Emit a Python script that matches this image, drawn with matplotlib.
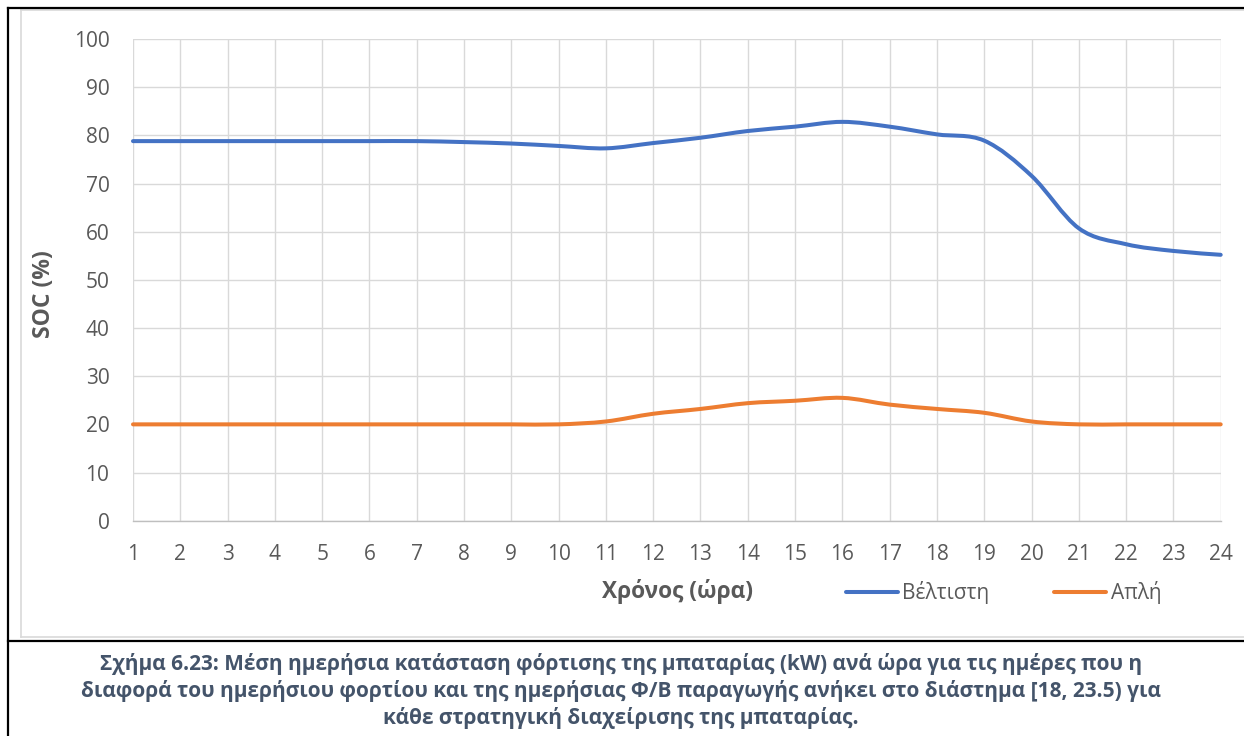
import numpy as np
import matplotlib
matplotlib.use("Agg")
import matplotlib.pyplot as plt
from matplotlib.path import Path
from matplotlib.patches import PathPatch
from matplotlib.lines import Line2D

plt.rcParams['font.family'] = ['Open Sans', 'DejaVu Sans']

hours = list(range(1, 25))
best = [78.8, 78.8, 78.8, 78.8, 78.8, 78.8, 78.8, 78.6, 78.3, 77.8, 77.3, 78.4,
        79.5, 80.9, 81.8, 82.8, 81.8, 80.2, 78.9, 71.6, 60.7, 57.4, 56.0, 55.2]
simple = [20.0, 20.0, 20.0, 20.0, 20.0, 20.0, 20.0, 20.0, 20.0, 20.0, 20.6, 22.2,
          23.2, 24.4, 24.9, 25.5, 24.1, 23.2, 22.4, 20.6, 20.0, 20.0, 20.0, 20.0]
series_names = ["Βέλτιστη", "Απλή"]
series_colors = ["#4472C4", "#ED7D31"]
x_ticks = hours
y_ticks = list(range(0, 101, 10))
x_title = "Χρόνος (ώρα)"
y_title = "SOC (%)"
caption = ("Σχήμα 6.23: Μέση ημερήσια κατάσταση φόρτισης της μπαταρίας (kW) ανά ώρα για τις ημέρες που η\n"
           "διαφορά του ημερήσιου φορτίου και της ημερήσιας Φ/Β παραγωγής ανήκει στο διάστημα [18, 23.5) για\n"
           "κάθε στρατηγική διαχείρισης της μπαταρίας.")

W, H = 1244, 736
fig = plt.figure(figsize=(W / 100, H / 100), dpi=100)


def fx(px):
    return px / W


def fy(py):
    return 1 - py / H


def smooth_path(x, y):
    """Excel-like smoothed line: cubic Bezier through the data points."""
    x = np.asarray(x, float)
    y = np.asarray(y, float)
    n = len(x)
    verts = [(x[0], y[0])]
    codes = [Path.MOVETO]
    for i in range(n - 1):
        p0 = np.array([x[max(i - 1, 0)], y[max(i - 1, 0)]])
        p1 = np.array([x[i], y[i]])
        p2 = np.array([x[i + 1], y[i + 1]])
        p3 = np.array([x[min(i + 2, n - 1)], y[min(i + 2, n - 1)]])
        c1 = p1 + (p2 - p0) / 6.0
        c2 = p2 - (p3 - p1) / 6.0
        verts += [tuple(c1), tuple(c2), tuple(p2)]
        codes += [Path.CURVE4] * 3
    return Path(verts, codes)


# axes
ax_left, ax_right, ax_top, ax_bottom = 133, 1220.7, 39, 520.7
ax = fig.add_axes([fx(ax_left), fy(ax_bottom), fx(ax_right - ax_left), (ax_bottom - ax_top) / H])
ax.set_xlim(1, 24)
ax.set_ylim(0, 100)
ax.set_xticks(x_ticks)
ax.set_yticks(y_ticks)
ax.grid(True, color="#D9D9D9", linewidth=1.0)
ax.set_axisbelow(True)
for s in ax.spines.values():
    s.set_visible(False)
ax.spines['bottom'].set_visible(True)
ax.spines['bottom'].set_color("#BFBFBF")
ax.spines['bottom'].set_linewidth(1.0)
ax.tick_params(length=0, labelsize=15, labelcolor="#595959")
ax.tick_params(axis='y', pad=17)
ax.tick_params(axis='x', pad=17)

for vals, col in zip([best, simple], series_colors):
    patch = PathPatch(smooth_path(hours, vals), facecolor='none', edgecolor=col,
                      linewidth=2.9, capstyle='round', joinstyle='round', zorder=3)
    patch.set_clip_on(False)
    ax.add_patch(patch)

# axis titles
fig.text(fx(44), fy(294), y_title, rotation=90, ha='center', va='center',
         fontsize=16.5, fontweight='bold', color="#595959")
fig.text(fx(678), fy(591), x_title, ha='center', va='center',
         fontsize=16.3, fontweight='bold', color="#595959")

# legend (manual placement)
leg_items = [(846, 898, 902), (1054, 1106, 1111)]
for (x0, x1, xt), name, col in zip(leg_items, series_names, series_colors):
    fig.add_artist(Line2D([fx(x0), fx(x1)], [fy(592), fy(592)], color=col,
                          linewidth=2.9, solid_capstyle='round', transform=fig.transFigure))
    fig.text(fx(xt), fy(593), name, ha='left', va='center', fontsize=15, color="#595959")

# chart area border (light gray)
fig.add_artist(Line2D([fx(21), fx(21)], [fy(10), fy(637)], color="#D9D9D9", linewidth=1.2,
                      transform=fig.transFigure))
fig.add_artist(Line2D([fx(21), fx(W)], [fy(10), fy(10)], color="#D9D9D9", linewidth=1.2,
                      transform=fig.transFigure))
fig.add_artist(Line2D([fx(21), fx(W)], [fy(637), fy(637)], color="#D9D9D9", linewidth=1.2,
                      transform=fig.transFigure))

# outer black table borders
fig.add_artist(Line2D([fx(8), fx(8)], [fy(8), fy(H)], color="black", linewidth=1.6,
                      transform=fig.transFigure))
fig.add_artist(Line2D([fx(8), fx(W)], [fy(8), fy(8)], color="black", linewidth=1.6,
                      transform=fig.transFigure))
fig.add_artist(Line2D([fx(8), fx(W)], [fy(641), fy(641)], color="black", linewidth=1.6,
                      transform=fig.transFigure))

# caption
fig.text(fx(621), fy(691), caption, ha='center', va='center', fontsize=15,
         fontweight='bold', color="#44546A", linespacing=1.3)

fig.savefig("out.png", dpi=100, facecolor="white")
